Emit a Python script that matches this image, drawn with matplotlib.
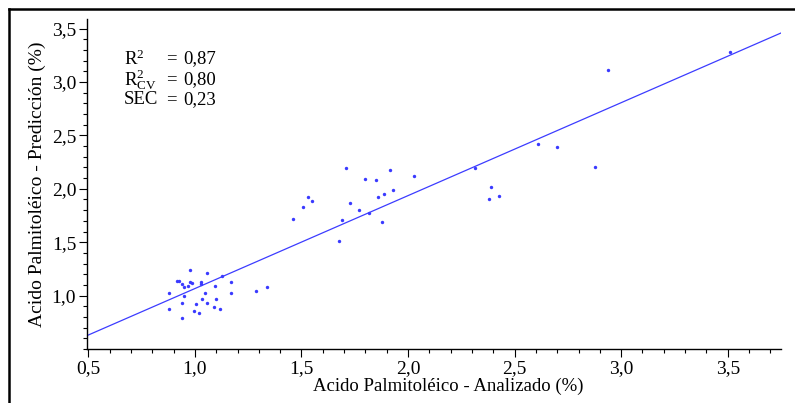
import numpy as np
import matplotlib
matplotlib.use('Agg')
import matplotlib.pyplot as plt
from matplotlib.ticker import MultipleLocator, FuncFormatter
from matplotlib.lines import Line2D

plt.rcParams['font.family'] = ['Liberation Serif', 'DejaVu Serif']
plt.rcParams['mathtext.fontset'] = 'custom'
plt.rcParams['mathtext.rm'] = 'Liberation Serif'
plt.rcParams['mathtext.it'] = 'Liberation Serif'

# analizado (x) vs prediccion (y), % acido palmitoleico
analizado = [0.979, 1.058, 1.127, 0.918, 0.927, 0.938, 0.977, 0.985, 1.027, 1.030,
             0.949, 0.968, 1.096, 1.168, 0.877, 0.948, 1.048, 1.168, 1.035, 1.098,
             0.938, 1.007, 1.058, 1.088, 1.117, 0.877, 0.997, 1.018, 0.938, 1.287,
             1.339, 1.709, 1.917, 2.028, 1.800, 1.850, 2.316, 1.530, 1.548, 1.508,
             1.728, 1.859, 1.889, 1.930, 1.769, 1.817, 2.390, 2.379, 2.429, 1.459,
             1.689, 1.878, 1.678, 2.609, 2.701, 2.940, 3.511, 2.879]
prediccion = [1.242, 1.214, 1.185, 1.135, 1.141, 1.104, 1.129, 1.116, 1.129, 1.107,
              1.085, 1.092, 1.094, 1.125, 1.022, 1.000, 1.026, 1.022, 0.969, 0.969,
              0.932, 0.919, 0.928, 0.894, 0.876, 0.872, 0.857, 0.838, 0.794, 1.045,
              1.076, 2.190, 2.177, 2.124, 2.092, 2.080, 2.196, 1.927, 1.883, 1.830,
              1.871, 1.923, 1.949, 1.986, 1.805, 1.770, 2.012, 1.902, 1.937, 1.721,
              1.705, 1.692, 1.510, 2.421, 2.393, 3.116, 3.276, 2.202]

# regression line
pendiente = 0.870
ordenada = 0.196

stats_labels = [r'R$^2$', r'R$^2_{\rm CV}$', 'SEC']
stats_values = ['0,87', '0,80', '0,23']

xlim = (0.495, 3.75)
ylim = (0.5, 3.59)

fig = plt.figure(figsize=(7.95, 4.03), dpi=100)
ax = fig.add_axes([0.1098, 0.134, 0.8726, 0.819])

ax.scatter(analizado, prediccion, s=6, color='#3a3aff', linewidths=0, zorder=3)
xs = np.array([0.5, 3.75])
ax.plot(xs, pendiente * xs + ordenada, color='#3c3cff', lw=0.9)

ax.set_xlim(xlim)
ax.set_ylim(ylim)
for s in ['top', 'right']:
    ax.spines[s].set_visible(False)
for s in ['left', 'bottom']:
    ax.spines[s].set_linewidth(1.0)

ax.xaxis.set_major_locator(MultipleLocator(0.5))
ax.xaxis.set_minor_locator(MultipleLocator(0.1))
ax.yaxis.set_major_locator(MultipleLocator(0.5))
ax.yaxis.set_minor_locator(MultipleLocator(0.1))
fmt = FuncFormatter(lambda v, p: f'{v:.1f}'.replace('.', ','))
ax.xaxis.set_major_formatter(fmt)
ax.yaxis.set_major_formatter(fmt)
ax.tick_params(which='major', length=6, width=0.8, labelsize=14, pad=2)
ax.tick_params(which='minor', length=3, width=0.8)
ax.set_yticks([1.0, 1.5, 2.0, 2.5, 3.0, 3.5])

ax.set_xlabel('Acido Palmitoléico - Analizado (%)', fontsize=13.5, va='center')
ax.xaxis.set_label_coords(0.521, -0.114)
ax.set_ylabel('Acido Palmitoléico - Predicción (%)', fontsize=14, labelpad=4)

for i, (lab, val) in enumerate(zip(stats_labels, stats_values)):
    y = 403 - (59 + i * 20.5)
    fig.text(124 / 795, y / 403, lab, fontsize=13.5, va='center', ha='left')
    fig.text(166 / 795, y / 403, '=', fontsize=13.5, va='center', ha='left')
    fig.text(183 / 795, y / 403, val, fontsize=13.5, va='center', ha='left')

# frame lines on top and left edges of the picture
fig.add_artist(Line2D([9 / 795, 9 / 795], [0, 1 - 9 / 403], color='black', lw=1.8,
                      transform=fig.transFigure))
fig.add_artist(Line2D([9 / 795, 1], [1 - 9 / 403, 1 - 9 / 403], color='black', lw=1.8,
                      transform=fig.transFigure))

fig.savefig('out.png', dpi=100)
